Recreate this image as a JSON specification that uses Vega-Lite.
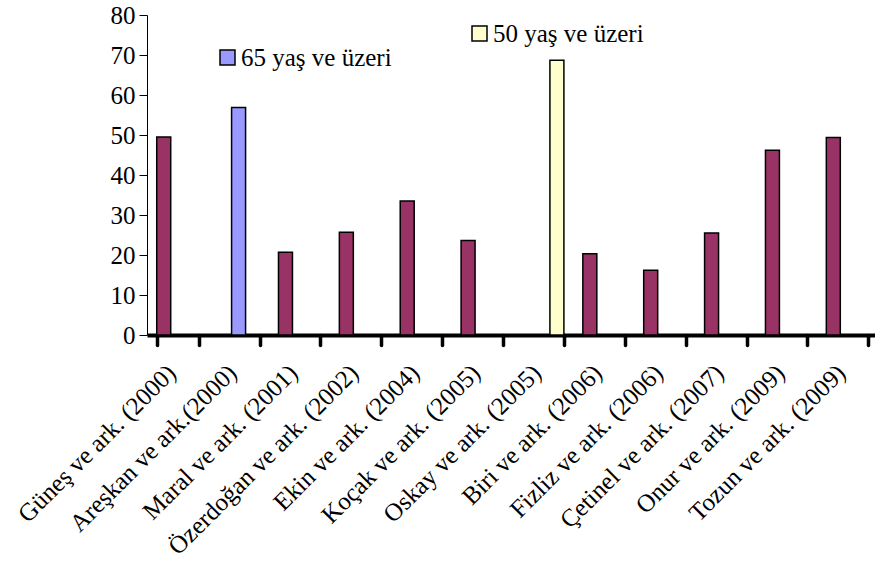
{
  "$schema": "https://vega.github.io/schema/vega-lite/v6.json",
  "width": 728,
  "height": 320,
  "autosize": {"type": "none"},
  "padding": {"left": 147, "top": 15, "right": 0, "bottom": 229},
  "background": "white",
  "config": {
    "view": {"stroke": null},
    "font": "Liberation Serif",
    "legend": {"labelFont": "Liberation Serif", "titleFont": "Liberation Serif"},
    "axis": {"labelFont": "Liberation Serif"}
  },
  "data": {
    "values": [
      {"calisma": "Güneş ve ark. (2000)", "deger": 49.5, "grup": "Diğer"},
      {"calisma": "Areşkan ve ark.(2000)", "deger": 56.9, "grup": "65 yaş ve üzeri"},
      {"calisma": "Maral ve ark. (2001)", "deger": 20.7, "grup": "Diğer"},
      {"calisma": "Özerdoğan ve ark. (2002)", "deger": 25.7, "grup": "Diğer"},
      {"calisma": "Ekin ve ark. (2004)", "deger": 33.5, "grup": "Diğer"},
      {"calisma": "Koçak ve ark. (2005)", "deger": 23.6, "grup": "Diğer"},
      {"calisma": "Oskay ve ark. (2005)", "deger": 68.7, "grup": "50 yaş ve üzeri"},
      {"calisma": "Biri ve ark. (2006)", "deger": 20.3, "grup": "Diğer"},
      {"calisma": "Fizliz ve ark. (2006)", "deger": 16.2, "grup": "Diğer"},
      {"calisma": "Çetinel ve ark. (2007)", "deger": 25.5, "grup": "Diğer"},
      {"calisma": "Onur ve ark. (2009)", "deger": 46.2, "grup": "Diğer"},
      {"calisma": "Tozun ve ark. (2009)", "deger": 49.4, "grup": "Diğer"}
    ]
  },
  "encoding": {
    "x": {
      "field": "calisma",
      "type": "nominal",
      "title": null,
      "scale": {
        "domain": ["Güneş ve ark. (2000)", "Areşkan ve ark.(2000)", "Maral ve ark. (2001)", "Özerdoğan ve ark. (2002)", "Ekin ve ark. (2004)", "Koçak ve ark. (2005)", "Oskay ve ark. (2005)", "Biri ve ark. (2006)", "Fizliz ve ark. (2006)", "Çetinel ve ark. (2007)", "Onur ve ark. (2009)", "Tozun ve ark. (2009)"],
        "range": [0, 731],
        "paddingInner": 0.311,
        "paddingOuter": 0.16
      },
      "axis": {
        "tickBand": "extent",
        "domainColor": "black",
        "domainWidth": 4,
        "tickColor": "black",
        "tickWidth": 3.5,
        "tickSize": 10,
        "tickCap": "round",
        "labelAngle": -45,
        "labelFont": "Liberation Serif",
        "labelFontSize": 25,
        "labelColor": "black",
        "labelPadding": 15,
        "labelOffset": -15,
        "labelLimit": 500,
        "labelOverlap": false,
        "labelBound": false,
        "grid": false
      }
    },
    "xOffset": {
      "field": "grup",
      "scale": {"domain": ["Diğer", "65 yaş ve üzeri", "50 yaş ve üzeri"], "paddingInner": 0, "paddingOuter": 0}
    },
    "y": {
      "field": "deger",
      "type": "quantitative",
      "title": null,
      "scale": {"domain": [0, 80], "nice": false},
      "axis": {
        "values": [0, 10, 20, 30, 40, 50, 60, 70, 80],
        "domainColor": "black",
        "domainWidth": 1,
        "tickColor": "black",
        "tickSize": 8,
        "tickWidth": 1,
        "labelFont": "Liberation Serif",
        "labelFontSize": 25,
        "labelColor": "black",
        "labelPadding": 4,
        "grid": false
      }
    }
  },
  "layer": [
    {
      "transform": [{"filter": "datum.grup != '50 yaş ve üzeri'"}],
      "mark": {"type": "bar", "stroke": "black", "strokeWidth": 1.5},
      "encoding": {
        "fill": {
          "field": "grup",
          "type": "nominal",
          "scale": {"domain": ["Diğer", "65 yaş ve üzeri"], "range": ["#993366", "#9999FF"]},
          "legend": {
            "values": ["65 yaş ve üzeri"],
            "orient": "none",
            "legendX": 68,
            "legendY": 30,
            "title": null,
            "padding": 0,
            "symbolType": "square",
            "symbolSize": 225,
            "symbolStrokeColor": "black",
            "symbolStrokeWidth": 1.5,
            "labelFont": "Liberation Serif",
            "labelFontSize": 25,
            "labelColor": "black",
            "labelOffset": 1,
            "labelLimit": 400
          }
        }
      }
    },
    {
      "transform": [{"filter": "datum.grup == '50 yaş ve üzeri'"}],
      "mark": {"type": "bar", "stroke": "black", "strokeWidth": 1.5},
      "encoding": {
        "fill": {
          "field": "grup",
          "type": "nominal",
          "scale": {"domain": ["50 yaş ve üzeri"], "range": ["#FFFFCC"]},
          "legend": {
            "values": ["50 yaş ve üzeri"],
            "orient": "none",
            "legendX": 320,
            "legendY": 6,
            "title": null,
            "padding": 0,
            "symbolType": "square",
            "symbolSize": 225,
            "symbolStrokeColor": "black",
            "symbolStrokeWidth": 1.5,
            "labelFont": "Liberation Serif",
            "labelFontSize": 25,
            "labelColor": "black",
            "labelOffset": 1,
            "labelLimit": 400
          }
        }
      }
    }
  ],
  "resolve": {"scale": {"fill": "independent"}, "legend": {"fill": "independent"}}
}
